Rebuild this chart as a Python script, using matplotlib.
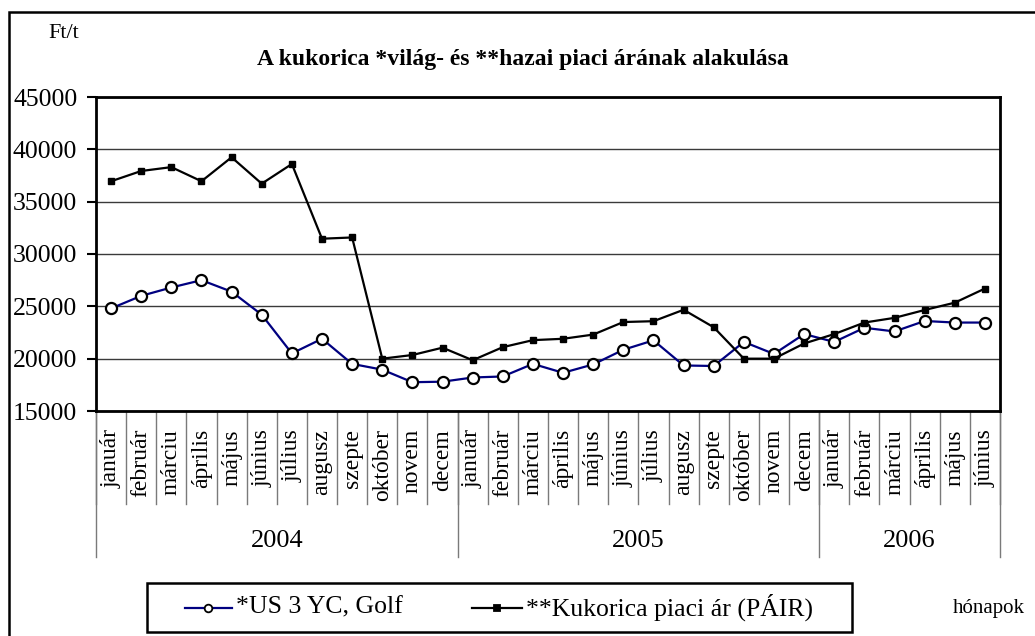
import matplotlib
matplotlib.use("Agg")
import matplotlib.pyplot as plt
import matplotlib.transforms as mtransforms
from matplotlib.patches import Rectangle
from matplotlib.lines import Line2D
import numpy as np

plt.rcParams['font.family'] = ['Liberation Serif', 'DejaVu Serif']

months = ["január", "február", "márciu", "április", "május", "június",
          "július", "augusz", "szepte", "október", "novem", "decem",
          "január", "február", "márciu", "április", "május", "június",
          "július", "augusz", "szepte", "október", "novem", "decem",
          "január", "február", "márciu", "április", "május", "június"]
years = ["2004", "2005", "2006"]
year_counts = [12, 12, 6]

us_golf = [24800, 26000, 26800, 27500, 26400, 24200, 20500, 21900, 19500, 18950, 17750, 17800,
           18200, 18300, 19500, 18650, 19450, 20850, 21750, 19350, 19300, 21600, 20450, 22350,
           21600, 22950, 22600, 23600, 23450, 23450]
pair = [36950, 37930, 38300, 36950, 39240, 36720, 38600, 31460, 31580, 20000, 20350, 21050,
        19850, 21100, 21770, 21900, 22300, 23500, 23580, 24670, 23000, 20000, 20000, 21450,
        22350, 23450, 23900, 24650, 25350, 26700]
labels = ['*US 3 YC, Golf', '**Kukorica piaci ár (PÁIR)']

W, H = 1035, 636
fig = plt.figure(figsize=(W / 100, H / 100), dpi=100)
ax = fig.add_axes([96 / W, 1 - 411 / H, 904 / W, 314 / H])

x = np.arange(len(months))
blue_style = dict(color='#000080', lw=1.6, marker='o', mfc='white', mec='black', mew=1.6)
black_style = dict(color='black', lw=1.6, marker='s', mfc='black', mec='black')
ax.plot(x, us_golf, ms=8, zorder=3, label=labels[0], **blue_style)
ax.plot(x, pair, ms=5, zorder=3, label=labels[1], **black_style)

ax.set_xlim(-0.5, len(months) - 0.5)
ax.set_ylim(15000, 45000)
ax.set_yticks(np.arange(15000, 45001, 5000))
ax.yaxis.grid(True, color='#3a3a3a', lw=1.0)
ax.set_axisbelow(True)
ax.tick_params(axis='y', labelsize=18.5, length=6.5, width=1.5, pad=7, direction='out')
for s in ax.spines.values():
    s.set_linewidth(2.0)
    s.set_color('black')

ax.set_xticks(x)
ax.set_xticklabels(months, rotation=90, fontsize=17, va='top', ha='center')
ax.tick_params(axis='x', length=0, pad=13)

trans = mtransforms.blended_transform_factory(ax.transData, ax.transAxes)
for k in range(len(months) + 1):
    ax.plot([k - 0.5, k - 0.5], [0, -93 / 314], transform=trans, color='#7a7a7a',
            lw=1.0, clip_on=False)
bounds = [0]
for c in year_counts:
    bounds.append(bounds[-1] + c)
for b in bounds:
    ax.plot([b - 0.5, b - 0.5], [0, -146 / 314], transform=trans, color='#7a7a7a',
            lw=1.0, clip_on=False)
for i, yname in enumerate(years):
    cx = (bounds[i] + bounds[i + 1]) / 2 - 0.5
    ax.text(cx, -130 / 314, yname, transform=trans, ha='center', va='center', fontsize=19)

fig.text(64 / W, 1 - 33 / H, "Ft/t", ha='center', va='center', fontsize=16)
fig.text(523 / W, 1 - 60 / H, "A kukorica *világ- és **hazai piaci árának alakulása",
         ha='center', va='center', fontsize=17, fontweight='bold')
fig.text(989 / W, 1 - 609 / H, "hónapok", ha='center', va='center', fontsize=15)

# legend (manual, figure pixel layout)
def fx(px):
    return px / W

def fy(py):
    return 1 - py / H

fig.patches.append(Rectangle((fx(147), fy(632)), fx(852) - fx(147), fy(583) - fy(632),
                             transform=fig.transFigure, fill=False, edgecolor='black',
                             lw=1.8))
ly = fy(607.5)
for (h0, h1, t0), style, ms, lab in [((185, 232, 236), blue_style, 5.5, labels[0]),
                                     ((472, 522, 526), black_style, 4, labels[1])]:
    fig.lines.append(Line2D([fx(h0), fx(h1)], [ly, ly], transform=fig.transFigure,
                            **{k: v for k, v in style.items() if k != 'marker'}))
    fig.lines.append(Line2D([(fx(h0) + fx(h1)) / 2], [ly], transform=fig.transFigure,
                            ls='none', marker=style['marker'], ms=ms, mfc=style['mfc'],
                            mec=style['mec'], mew=1.3))
    fig.text(fx(t0), ly, lab, ha='left', va='center', fontsize=18.5)

fig.patches.append(Rectangle((9 / W, -0.1), 1.2, 1.1 - 12 / H, transform=fig.transFigure,
                             fill=False, edgecolor='black', lw=1.8, clip_on=False))

fig.savefig("out.png", dpi=100)
